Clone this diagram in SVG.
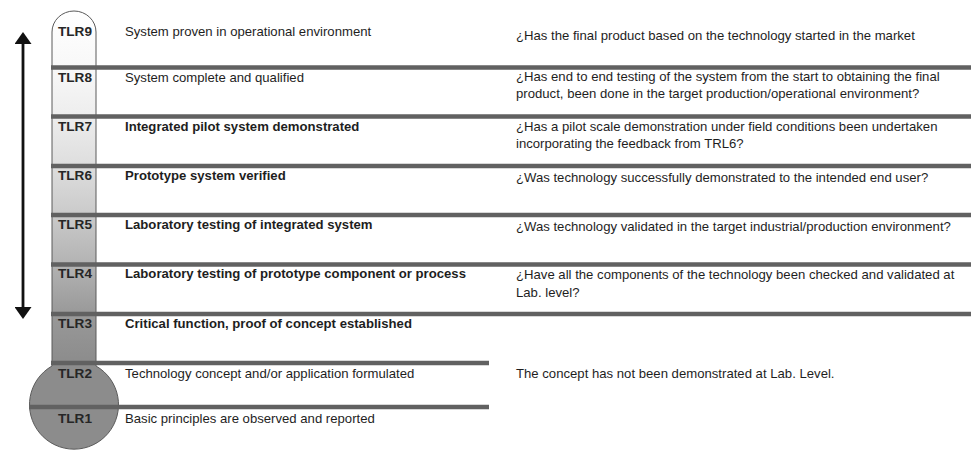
<svg xmlns="http://www.w3.org/2000/svg" width="971" height="450" viewBox="0 0 971 450">
  <style>
    text { font-family: "Liberation Sans", Arial, sans-serif; font-size: 13.15px; fill: #1e1e1e; }
    .lbl { font-weight: bold; font-size: 13.6px; fill: #262626; }
    .b { font-weight: bold; }
    .bar { stroke: #616161; stroke-width: 4.5; fill: none; }
    .arrow { stroke: #111; stroke-width: 2.8; fill: none; }
  </style>
  <defs>
    <linearGradient id="tubeFill" gradientUnits="userSpaceOnUse" x1="0" y1="11" x2="0" y2="450">
      <stop offset="0" stop-color="#ffffff"/>
      <stop offset="0.13" stop-color="#f8f8f8"/>
      <stop offset="0.24" stop-color="#ededed"/>
      <stop offset="0.35" stop-color="#dedede"/>
      <stop offset="0.46" stop-color="#cbcbcb"/>
      <stop offset="0.58" stop-color="#b2b2b2"/>
      <stop offset="0.69" stop-color="#999999"/>
      <stop offset="0.80" stop-color="#8c8c8c"/>
      <stop offset="1" stop-color="#8c8c8c"/>
    </linearGradient>
    <marker id="head" viewBox="0 0 12 17" refX="0" refY="8.5" markerWidth="12" markerHeight="17" markerUnits="userSpaceOnUse" orient="auto-start-reverse">
      <path d="M0,0 L12,8.5 L0,17 Z" fill="#111"/>
    </marker>
  </defs>

  <!-- thermometer: tube with rounded cap and bulb -->
  <path id="thermometer" d="M52,366 L52,32 A22,21 0 0 1 96,32 L96,366 A44.5,44.5 0 1 1 52,366 Z" fill="url(#tubeFill)" stroke="#5a5a5a" stroke-width="1"/>

  <!-- level separators -->
  <g id="separators">
    <line class="bar" x1="51" y1="67.5" x2="971" y2="67.5"/>
    <line class="bar" x1="51" y1="116.5" x2="971" y2="116.5"/>
    <line class="bar" x1="51" y1="166" x2="971" y2="166"/>
    <line class="bar" x1="51" y1="215" x2="971" y2="215"/>
    <line class="bar" x1="51" y1="264.5" x2="971" y2="264.5"/>
    <line class="bar" x1="51" y1="314" x2="971" y2="314"/>
    <line class="bar" x1="51" y1="363" x2="489" y2="363"/>
    <line class="bar" x1="29" y1="407" x2="489" y2="407"/>
  </g>

  <!-- connectors -->
  <g id="connectors">
    <line class="arrow" x1="23" y1="44" x2="23" y2="307" marker-start="url(#head)" marker-end="url(#head)"/>
  </g>

  <g id="tlr9">
    <text class="lbl" x="58" y="36">TLR9</text>
    <text x="125" y="36">System proven in operational environment</text>
    <text x="516" y="40">¿Has the final product based on the technology started in the market</text>
  </g>
  <g id="tlr8">
    <text class="lbl" x="58" y="82">TLR8</text>
    <text x="125" y="82">System complete and qualified</text>
    <text x="516" y="81">¿Has end to end testing of the system from the start to obtaining the final</text>
    <text x="516" y="98">product, been done in the target production/operational environment?</text>
  </g>
  <g id="tlr7">
    <text class="lbl" x="58" y="131">TLR7</text>
    <text class="b" x="125" y="131">Integrated pilot system demonstrated</text>
    <text x="516" y="131">¿Has a pilot scale demonstration under field conditions been undertaken</text>
    <text x="516" y="148">incorporating the feedback from TRL6?</text>
  </g>
  <g id="tlr6">
    <text class="lbl" x="58" y="180">TLR6</text>
    <text class="b" x="125" y="180">Prototype system verified</text>
    <text x="516" y="182">¿Was technology successfully demonstrated to the intended end user?</text>
  </g>
  <g id="tlr5">
    <text class="lbl" x="58" y="229">TLR5</text>
    <text class="b" x="125" y="229">Laboratory testing of integrated system</text>
    <text x="516" y="231">¿Was technology validated in the target industrial/production environment?</text>
  </g>
  <g id="tlr4">
    <text class="lbl" x="58" y="278">TLR4</text>
    <text class="b" x="125" y="278">Laboratory testing of prototype component or process</text>
    <text x="516" y="279">¿Have all the components of the technology been checked and validated at</text>
    <text x="516" y="297">Lab. level?</text>
  </g>
  <g id="tlr3">
    <text class="lbl" x="58" y="328">TLR3</text>
    <text class="b" x="125" y="328">Critical function, proof of concept established</text>
  </g>
  <g id="tlr2">
    <text class="lbl" x="58" y="378">TLR2</text>
    <text x="125" y="378">Technology concept and/or application formulated</text>
    <text x="516" y="378">The concept has not been demonstrated at Lab. Level.</text>
  </g>
  <g id="tlr1">
    <text class="lbl" x="58" y="423">TLR1</text>
    <text x="125" y="423">Basic principles are observed and reported</text>
  </g>
</svg>
